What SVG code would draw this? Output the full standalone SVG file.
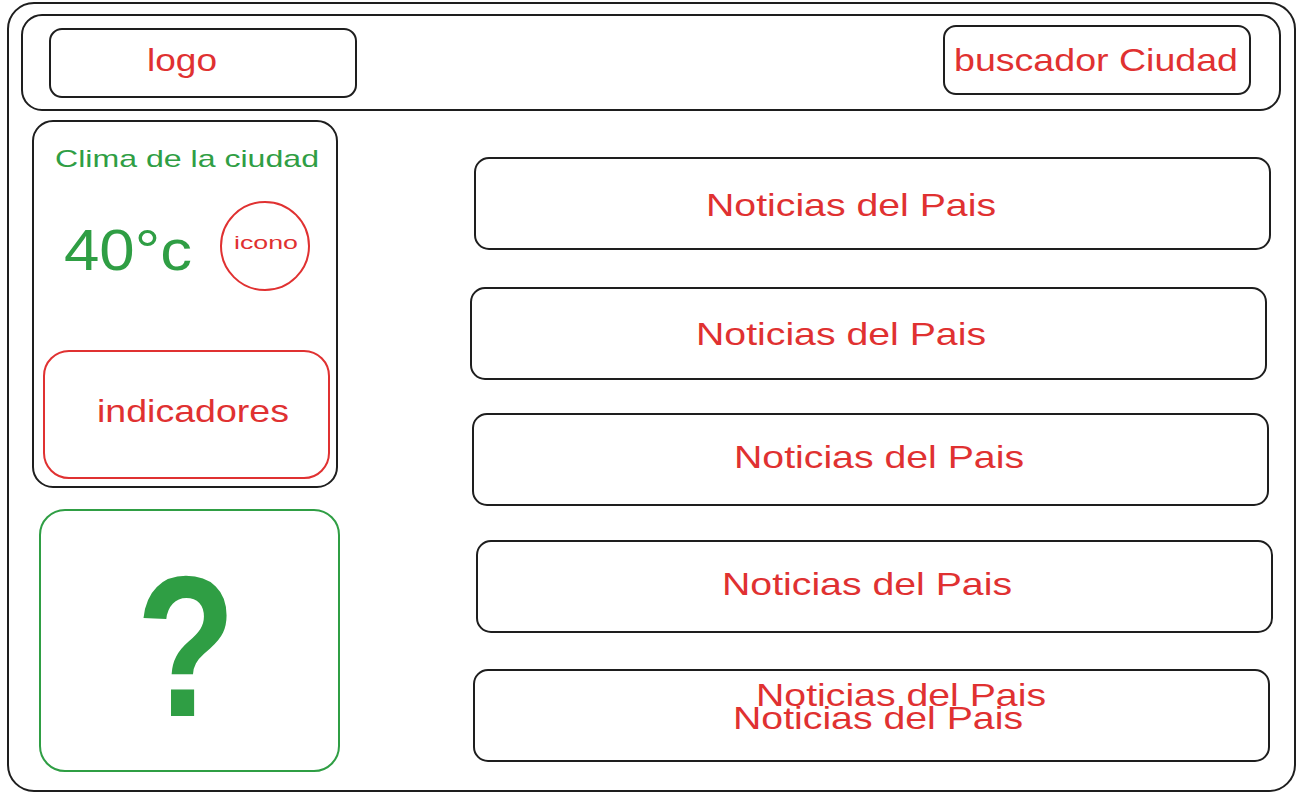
<svg xmlns="http://www.w3.org/2000/svg" width="1298" height="795" viewBox="0 0 1298 795">
<style>
.box{fill:none;stroke:#1e1e1e;stroke-width:2}
.rbox{fill:none;stroke:#e03131;stroke-width:2}
.gbox{fill:none;stroke:#2f9e44;stroke-width:2}
.red{fill:#e03131;font-family:"Liberation Sans",Arial,sans-serif;text-anchor:middle}
.green{fill:#2f9e44;font-family:"Liberation Sans",Arial,sans-serif;text-anchor:middle}
</style>
<rect width="1298" height="795" fill="#ffffff"/>
<g id="frame"><rect class="box" x="8" y="3" width="1287" height="788" rx="26"/></g>
<g id="header"><rect class="box" x="22" y="15" width="1258" height="95" rx="20"/></g>
<g id="logo"><rect class="box" x="50" y="29" width="306" height="68" rx="12"/>
<text class="red" x="182" y="71" font-size="32" textLength="70" lengthAdjust="spacingAndGlyphs">logo</text></g>
<g id="buscador"><rect class="box" x="944" y="26" width="306" height="68" rx="12"/>
<text class="red" x="1096" y="71" font-size="32" textLength="284" lengthAdjust="spacingAndGlyphs">buscador Ciudad</text></g>
<g id="clima"><rect class="box" x="33" y="121" width="304" height="366" rx="20"/>
<text class="green" x="187" y="167" font-size="24" textLength="264" lengthAdjust="spacingAndGlyphs">Clima de la ciudad</text>
<text class="green" x="128" y="270" font-size="58" textLength="128" lengthAdjust="spacingAndGlyphs">40°c</text></g>
<g id="icono"><circle class="rbox" cx="265" cy="246" r="44"/>
<text class="red" x="266" y="249" font-size="18" textLength="64" lengthAdjust="spacingAndGlyphs">icono</text></g>
<g id="indicadores"><rect class="rbox" x="44" y="351" width="285" height="127" rx="25"/>
<text class="red" x="193" y="422" font-size="32" textLength="192" lengthAdjust="spacingAndGlyphs">indicadores</text></g>
<g id="incognita"><rect class="gbox" x="40" y="510" width="299" height="261" rx="25"/>
<text class="green" x="186" y="716" font-size="200" font-weight="bold" textLength="100" lengthAdjust="spacingAndGlyphs">?</text></g>
<g id="noticia1"><rect class="box" x="475" y="158" width="795" height="91" rx="14"/>
<text class="red" x="851" y="216" font-size="32" textLength="290" lengthAdjust="spacingAndGlyphs">Noticias del Pais</text></g>
<g id="noticia2"><rect class="box" x="471" y="288" width="795" height="91" rx="14"/>
<text class="red" x="841" y="345" font-size="32" textLength="290" lengthAdjust="spacingAndGlyphs">Noticias del Pais</text></g>
<g id="noticia3"><rect class="box" x="473" y="414" width="795" height="91" rx="14"/>
<text class="red" x="879" y="468" font-size="32" textLength="290" lengthAdjust="spacingAndGlyphs">Noticias del Pais</text></g>
<g id="noticia4"><rect class="box" x="477" y="541" width="795" height="91" rx="14"/>
<text class="red" x="867" y="595" font-size="32" textLength="290" lengthAdjust="spacingAndGlyphs">Noticias del Pais</text></g>
<g id="noticia5"><rect class="box" x="474" y="670" width="795" height="91" rx="14"/>
<text class="red" x="901" y="706" font-size="32" textLength="290" lengthAdjust="spacingAndGlyphs">Noticias del Pais</text>
<text class="red" x="878" y="729" font-size="32" textLength="290" lengthAdjust="spacingAndGlyphs">Noticias del Pais</text></g>
<g id="connectors"></g>
</svg>
